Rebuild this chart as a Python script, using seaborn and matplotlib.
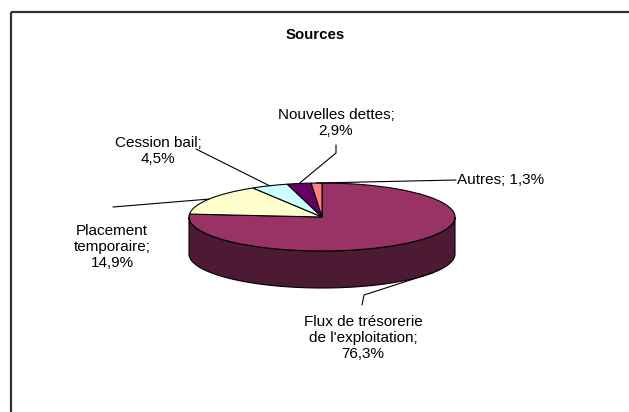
import numpy as np
import matplotlib
matplotlib.use("Agg")
import matplotlib.pyplot as plt
import seaborn as sns
from matplotlib.patches import Polygon, Rectangle

# ---- data ----
title = "Sources"
categories = ["Flux de trésorerie\nde l'exploitation", "Placement\ntemporaire",
              "Cession bail", "Nouvelles dettes", "Autres"]
values = [76.3, 14.9, 4.5, 2.9, 1.3]
value_labels = ["76,3%", "14,9%", "4,5%", "2,9%", "1,3%"]
separators = ["\n", "\n", "\n", "\n", " "]
colors = ["#993366", "#FFFFCC", "#CCFFFF", "#660066", "#FF8080"]

sns.set_theme(style="white")
plt.rcParams["font.family"] = ["Liberation Sans", "DejaVu Sans"]

W, H, DPI = 629, 412, 100
fig = plt.figure(figsize=(W / DPI, H / DPI), dpi=DPI)
fig.patch.set_facecolor("white")

# pie geometry (pixels)
cx, cy, rx, ry, depth = 322, 217, 133, 34, 37
d = depth / ry

ax = fig.add_axes([0, 0, 1, 1])
pal = sns.color_palette(colors)
wedges, _ = ax.pie(values, colors=pal, startangle=90, counterclock=False,
                   radius=1, wedgeprops=dict(edgecolor="black", linewidth=0.8),
                   normalize=True)
for w in wedges:
    w.set_zorder(3)
ax.set_xlim((0 - cx) / rx, (W - cx) / rx)
ax.set_ylim((cy - H) / ry, cy / ry)
ax.set_aspect("auto")
ax.axis("off")


def front_ranges(t1, t2):
    out = []
    for k in (-360, 0, 360):
        a, b = max(t1, 180 + k), min(t2, 360 + k)
        if b > a:
            out.append((a, b))
    return out


for w, c in zip(wedges, pal):
    dark = tuple(v * 0.5 for v in c)
    for a, b in front_ranges(w.theta1, w.theta2):
        t = np.radians(np.linspace(a, b, 200))
        top = np.column_stack([np.cos(t), np.sin(t)])
        bot = np.column_stack([np.cos(t), np.sin(t) - d])[::-1]
        poly = Polygon(np.vstack([top, bot]), closed=True, facecolor=dark,
                       edgecolor="black", linewidth=0.8, zorder=2)
        ax.add_patch(poly)

# overlay in pixel coordinates
ov = fig.add_axes([0, 0, 1, 1], facecolor="none")
ov.set_xlim(0, W)
ov.set_ylim(H, 0)
ov.axis("off")

ov.add_patch(Rectangle((10.5, 11.5), W + 20, H + 20, fill=False,
                       edgecolor="#333333", linewidth=1.6, clip_on=True))
ov.text(315, 35, title, ha="center", va="center", fontsize=10.8,
        fontweight="bold", color="black")

# label layout (pixels)
text_pos = [(363, 338), (112, 247), (158, 151), (336, 123), (457, 180)]
text_ha = ["center", "center", "center", "center", "left"]
leader_pts = [[(362, 305), (364, 295)], [(113, 207)], [(196, 149)],
              [(336, 145), (336, 153)], [(456, 180)]]
anchor_shift = [14, 0, 0, 0, 0]   # degrees, Excel places the side anchor a bit right
on_side = [True, False, False, False, False]


def to_px(x, y):
    dx, dy = ax.transData.transform((x, y))
    return dx, H - dy


for i, w in enumerate(wedges):
    m = np.radians((w.theta1 + w.theta2) / 2 + anchor_shift[i])
    yv = np.sin(m) - (d if on_side[i] else 0)
    anchor = to_px(np.cos(m), yv)
    pts = leader_pts[i] + [anchor]
    xs, ys = zip(*pts)
    ov.plot(xs, ys, color="black", linewidth=0.8, zorder=5)
    label = f"{categories[i]};{separators[i]}{value_labels[i]}"
    ov.text(text_pos[i][0], text_pos[i][1], label, ha=text_ha[i], va="center",
            multialignment="center", fontsize=11, linespacing=1.2,
            color="black", zorder=6)

fig.savefig("out.png", dpi=DPI)
